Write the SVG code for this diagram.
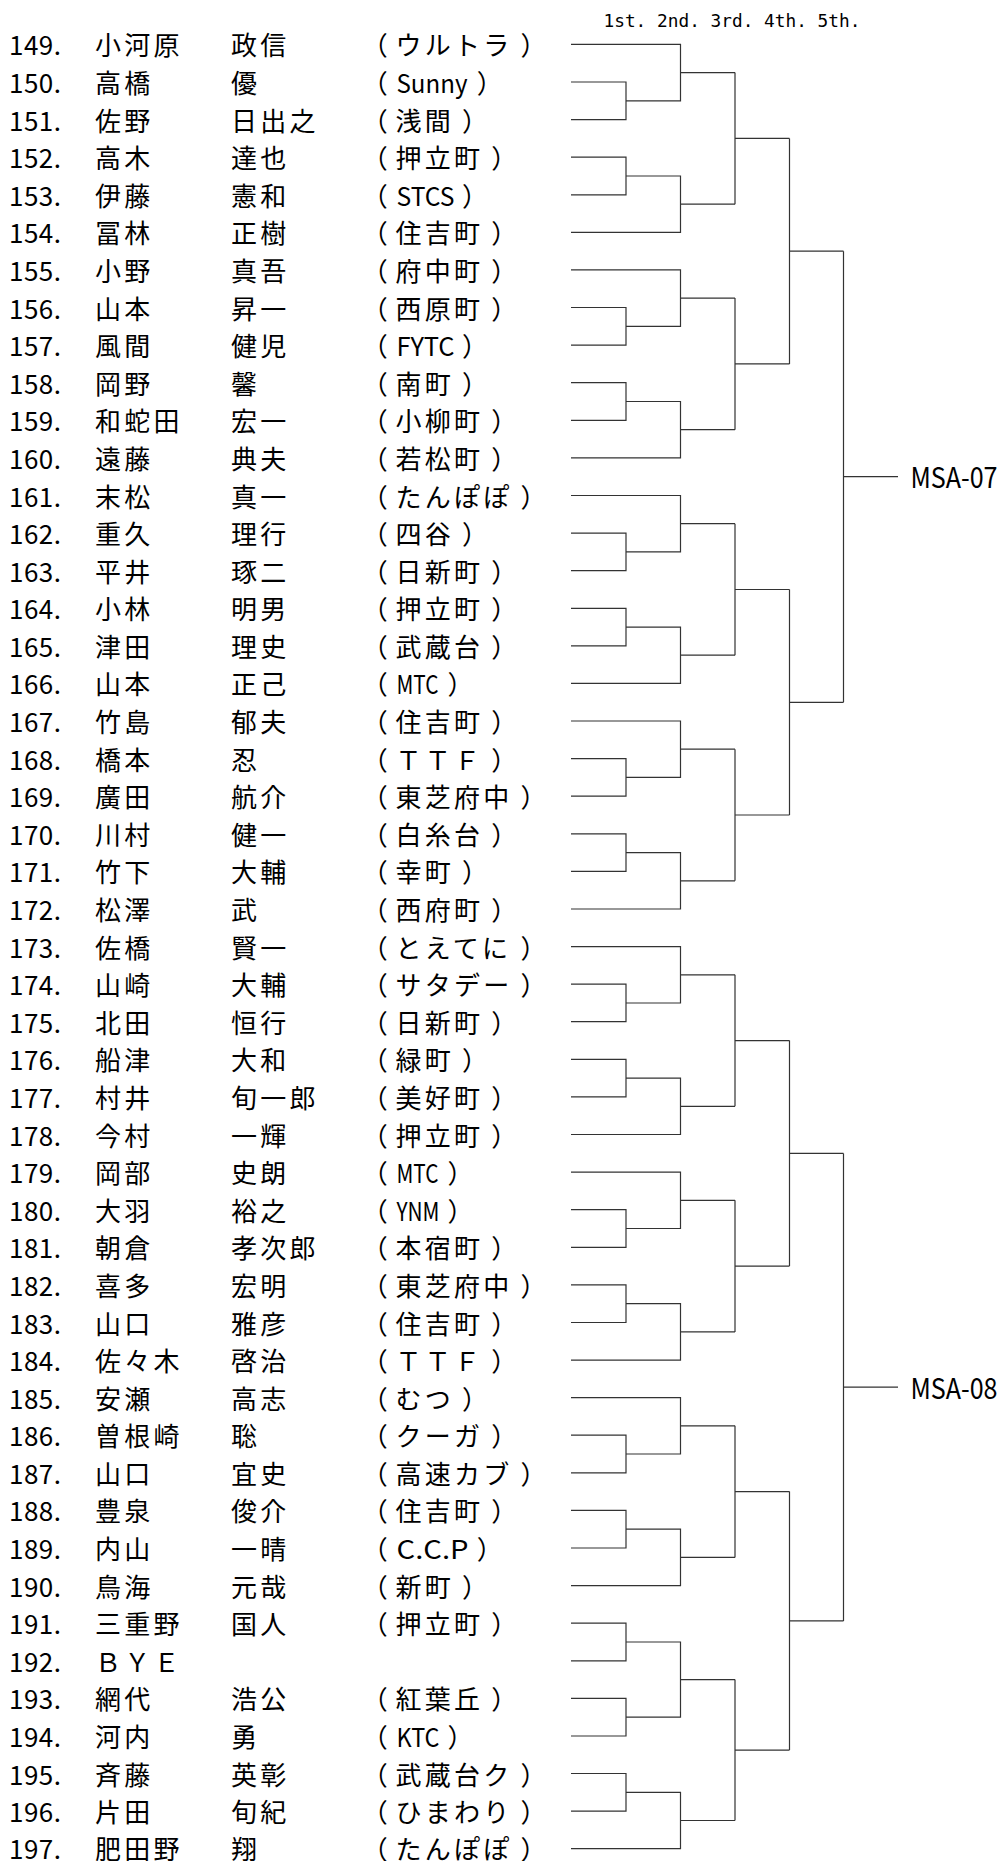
<svg xmlns="http://www.w3.org/2000/svg" width="1003" height="1861" viewBox="0 0 1003 1861">
<style>
text{font-family:"Noto Sans CJK JP","Noto Sans CJK SC",sans-serif;font-size:26px;fill:#000}
.j{letter-spacing:3.3px}
.no{letter-spacing:.5px}
.hd{font-family:"DejaVu Sans Mono",monospace;font-size:17.8px}
.msa{font-size:29px}
#bracket path{fill:none;stroke:#333;stroke-width:1.2}
</style>
<rect width="1003" height="1861" fill="#fff"/>
<g id="rounds"><text class="hd" x="603.5" y="26.7">1st. 2nd. 3rd. 4th. 5th.</text></g>
<g id="e149" transform="translate(0 55.4)"><text class="no" x="9">149.</text><text class="j" x="95">小河原</text><text class="j" x="231">政信</text><text><tspan x="361.7">（</tspan><tspan class="j" x="395.4">ウルトラ</tspan><tspan x="520.6">）</tspan></text></g>
<g id="e150" transform="translate(0 93)"><text class="no" x="9">150.</text><text class="j" x="95">高橋</text><text class="j" x="231">優</text><text><tspan x="361.7">（</tspan><tspan x="396.5" textLength="71" lengthAdjust="spacingAndGlyphs">Sunny</tspan><tspan x="476.7">）</tspan></text></g>
<g id="e151" transform="translate(0 130.6)"><text class="no" x="9">151.</text><text class="j" x="95">佐野</text><text class="j" x="231">日出之</text><text><tspan x="361.7">（</tspan><tspan class="j" x="395.4">浅間</tspan><tspan x="462">）</tspan></text></g>
<g id="e152" transform="translate(0 168.2)"><text class="no" x="9">152.</text><text class="j" x="95">高木</text><text class="j" x="231">達也</text><text><tspan x="361.7">（</tspan><tspan class="j" x="395.4">押立町</tspan><tspan x="491.3">）</tspan></text></g>
<g id="e153" transform="translate(0 205.8)"><text class="no" x="9">153.</text><text class="j" x="95">伊藤</text><text class="j" x="231">憲和</text><text><tspan x="361.7">（</tspan><tspan x="396.5" textLength="58" lengthAdjust="spacingAndGlyphs">STCS</tspan><tspan x="462">）</tspan></text></g>
<g id="e154" transform="translate(0 243.4)"><text class="no" x="9">154.</text><text class="j" x="95">冨林</text><text class="j" x="231">正樹</text><text><tspan x="361.7">（</tspan><tspan class="j" x="395.4">住吉町</tspan><tspan x="491.3">）</tspan></text></g>
<g id="e155" transform="translate(0 280.9)"><text class="no" x="9">155.</text><text class="j" x="95">小野</text><text class="j" x="231">真吾</text><text><tspan x="361.7">（</tspan><tspan class="j" x="395.4">府中町</tspan><tspan x="491.3">）</tspan></text></g>
<g id="e156" transform="translate(0 318.5)"><text class="no" x="9">156.</text><text class="j" x="95">山本</text><text class="j" x="231">昇一</text><text><tspan x="361.7">（</tspan><tspan class="j" x="395.4">西原町</tspan><tspan x="491.3">）</tspan></text></g>
<g id="e157" transform="translate(0 356.1)"><text class="no" x="9">157.</text><text class="j" x="95">風間</text><text class="j" x="231">健児</text><text><tspan x="361.7">（</tspan><tspan x="396.5" textLength="58" lengthAdjust="spacingAndGlyphs">FYTC</tspan><tspan x="462">）</tspan></text></g>
<g id="e158" transform="translate(0 393.7)"><text class="no" x="9">158.</text><text class="j" x="95">岡野</text><text class="j" x="231">馨</text><text><tspan x="361.7">（</tspan><tspan class="j" x="395.4">南町</tspan><tspan x="462">）</tspan></text></g>
<g id="e159" transform="translate(0 431.3)"><text class="no" x="9">159.</text><text class="j" x="95">和蛇田</text><text class="j" x="231">宏一</text><text><tspan x="361.7">（</tspan><tspan class="j" x="395.4">小柳町</tspan><tspan x="491.3">）</tspan></text></g>
<g id="e160" transform="translate(0 468.9)"><text class="no" x="9">160.</text><text class="j" x="95">遠藤</text><text class="j" x="231">典夫</text><text><tspan x="361.7">（</tspan><tspan class="j" x="395.4">若松町</tspan><tspan x="491.3">）</tspan></text></g>
<g id="e161" transform="translate(0 506.5)"><text class="no" x="9">161.</text><text class="j" x="95">末松</text><text class="j" x="231">真一</text><text><tspan x="361.7">（</tspan><tspan class="j" x="395.4">たんぽぽ</tspan><tspan x="520.6">）</tspan></text></g>
<g id="e162" transform="translate(0 544.1)"><text class="no" x="9">162.</text><text class="j" x="95">重久</text><text class="j" x="231">理行</text><text><tspan x="361.7">（</tspan><tspan class="j" x="395.4">四谷</tspan><tspan x="462">）</tspan></text></g>
<g id="e163" transform="translate(0 581.7)"><text class="no" x="9">163.</text><text class="j" x="95">平井</text><text class="j" x="231">琢二</text><text><tspan x="361.7">（</tspan><tspan class="j" x="395.4">日新町</tspan><tspan x="491.3">）</tspan></text></g>
<g id="e164" transform="translate(0 619.3)"><text class="no" x="9">164.</text><text class="j" x="95">小林</text><text class="j" x="231">明男</text><text><tspan x="361.7">（</tspan><tspan class="j" x="395.4">押立町</tspan><tspan x="491.3">）</tspan></text></g>
<g id="e165" transform="translate(0 656.8)"><text class="no" x="9">165.</text><text class="j" x="95">津田</text><text class="j" x="231">理史</text><text><tspan x="361.7">（</tspan><tspan class="j" x="395.4">武蔵台</tspan><tspan x="491.3">）</tspan></text></g>
<g id="e166" transform="translate(0 694.4)"><text class="no" x="9">166.</text><text class="j" x="95">山本</text><text class="j" x="231">正己</text><text><tspan x="361.7">（</tspan><tspan x="396.5" textLength="42" lengthAdjust="spacingAndGlyphs">MTC</tspan><tspan x="447.4">）</tspan></text></g>
<g id="e167" transform="translate(0 732)"><text class="no" x="9">167.</text><text class="j" x="95">竹島</text><text class="j" x="231">郁夫</text><text><tspan x="361.7">（</tspan><tspan class="j" x="395.4">住吉町</tspan><tspan x="491.3">）</tspan></text></g>
<g id="e168" transform="translate(0 769.6)"><text class="no" x="9">168.</text><text class="j" x="95">橋本</text><text class="j" x="231">忍</text><text><tspan x="361.7">（</tspan><tspan class="j" x="395.4">ＴＴＦ</tspan><tspan x="491.3">）</tspan></text></g>
<g id="e169" transform="translate(0 807.2)"><text class="no" x="9">169.</text><text class="j" x="95">廣田</text><text class="j" x="231">航介</text><text><tspan x="361.7">（</tspan><tspan class="j" x="395.4">東芝府中</tspan><tspan x="520.6">）</tspan></text></g>
<g id="e170" transform="translate(0 844.8)"><text class="no" x="9">170.</text><text class="j" x="95">川村</text><text class="j" x="231">健一</text><text><tspan x="361.7">（</tspan><tspan class="j" x="395.4">白糸台</tspan><tspan x="491.3">）</tspan></text></g>
<g id="e171" transform="translate(0 882.4)"><text class="no" x="9">171.</text><text class="j" x="95">竹下</text><text class="j" x="231">大輔</text><text><tspan x="361.7">（</tspan><tspan class="j" x="395.4">幸町</tspan><tspan x="462">）</tspan></text></g>
<g id="e172" transform="translate(0 920)"><text class="no" x="9">172.</text><text class="j" x="95">松澤</text><text class="j" x="231">武</text><text><tspan x="361.7">（</tspan><tspan class="j" x="395.4">西府町</tspan><tspan x="491.3">）</tspan></text></g>
<g id="e173" transform="translate(0 957.6)"><text class="no" x="9">173.</text><text class="j" x="95">佐橋</text><text class="j" x="231">賢一</text><text><tspan x="361.7">（</tspan><tspan class="j" x="395.4">とえてに</tspan><tspan x="520.6">）</tspan></text></g>
<g id="e174" transform="translate(0 995.2)"><text class="no" x="9">174.</text><text class="j" x="95">山崎</text><text class="j" x="231">大輔</text><text><tspan x="361.7">（</tspan><tspan class="j" x="395.4">サタデー</tspan><tspan x="520.6">）</tspan></text></g>
<g id="e175" transform="translate(0 1032.7)"><text class="no" x="9">175.</text><text class="j" x="95">北田</text><text class="j" x="231">恒行</text><text><tspan x="361.7">（</tspan><tspan class="j" x="395.4">日新町</tspan><tspan x="491.3">）</tspan></text></g>
<g id="e176" transform="translate(0 1070.3)"><text class="no" x="9">176.</text><text class="j" x="95">船津</text><text class="j" x="231">大和</text><text><tspan x="361.7">（</tspan><tspan class="j" x="395.4">緑町</tspan><tspan x="462">）</tspan></text></g>
<g id="e177" transform="translate(0 1107.9)"><text class="no" x="9">177.</text><text class="j" x="95">村井</text><text class="j" x="231">旬一郎</text><text><tspan x="361.7">（</tspan><tspan class="j" x="395.4">美好町</tspan><tspan x="491.3">）</tspan></text></g>
<g id="e178" transform="translate(0 1145.5)"><text class="no" x="9">178.</text><text class="j" x="95">今村</text><text class="j" x="231">一輝</text><text><tspan x="361.7">（</tspan><tspan class="j" x="395.4">押立町</tspan><tspan x="491.3">）</tspan></text></g>
<g id="e179" transform="translate(0 1183.1)"><text class="no" x="9">179.</text><text class="j" x="95">岡部</text><text class="j" x="231">史朗</text><text><tspan x="361.7">（</tspan><tspan x="396.5" textLength="42" lengthAdjust="spacingAndGlyphs">MTC</tspan><tspan x="447.4">）</tspan></text></g>
<g id="e180" transform="translate(0 1220.7)"><text class="no" x="9">180.</text><text class="j" x="95">大羽</text><text class="j" x="231">裕之</text><text><tspan x="361.7">（</tspan><tspan x="396.5" textLength="43" lengthAdjust="spacingAndGlyphs">YNM</tspan><tspan x="447.4">）</tspan></text></g>
<g id="e181" transform="translate(0 1258.3)"><text class="no" x="9">181.</text><text class="j" x="95">朝倉</text><text class="j" x="231">孝次郎</text><text><tspan x="361.7">（</tspan><tspan class="j" x="395.4">本宿町</tspan><tspan x="491.3">）</tspan></text></g>
<g id="e182" transform="translate(0 1295.9)"><text class="no" x="9">182.</text><text class="j" x="95">喜多</text><text class="j" x="231">宏明</text><text><tspan x="361.7">（</tspan><tspan class="j" x="395.4">東芝府中</tspan><tspan x="520.6">）</tspan></text></g>
<g id="e183" transform="translate(0 1333.5)"><text class="no" x="9">183.</text><text class="j" x="95">山口</text><text class="j" x="231">雅彦</text><text><tspan x="361.7">（</tspan><tspan class="j" x="395.4">住吉町</tspan><tspan x="491.3">）</tspan></text></g>
<g id="e184" transform="translate(0 1371.1)"><text class="no" x="9">184.</text><text class="j" x="95">佐々木</text><text class="j" x="231">啓治</text><text><tspan x="361.7">（</tspan><tspan class="j" x="395.4">ＴＴＦ</tspan><tspan x="491.3">）</tspan></text></g>
<g id="e185" transform="translate(0 1408.6)"><text class="no" x="9">185.</text><text class="j" x="95">安瀬</text><text class="j" x="231">高志</text><text><tspan x="361.7">（</tspan><tspan class="j" x="395.4">むつ</tspan><tspan x="462">）</tspan></text></g>
<g id="e186" transform="translate(0 1446.2)"><text class="no" x="9">186.</text><text class="j" x="95">曽根崎</text><text class="j" x="231">聡</text><text><tspan x="361.7">（</tspan><tspan class="j" x="395.4">クーガ</tspan><tspan x="491.3">）</tspan></text></g>
<g id="e187" transform="translate(0 1483.8)"><text class="no" x="9">187.</text><text class="j" x="95">山口</text><text class="j" x="231">宜史</text><text><tspan x="361.7">（</tspan><tspan class="j" x="395.4">高速カブ</tspan><tspan x="520.6">）</tspan></text></g>
<g id="e188" transform="translate(0 1521.4)"><text class="no" x="9">188.</text><text class="j" x="95">豊泉</text><text class="j" x="231">俊介</text><text><tspan x="361.7">（</tspan><tspan class="j" x="395.4">住吉町</tspan><tspan x="491.3">）</tspan></text></g>
<g id="e189" transform="translate(0 1559)"><text class="no" x="9">189.</text><text class="j" x="95">内山</text><text class="j" x="231">一晴</text><text><tspan x="361.7">（</tspan><tspan x="396.5" textLength="72" lengthAdjust="spacingAndGlyphs">C.C.P</tspan><tspan x="476.7">）</tspan></text></g>
<g id="e190" transform="translate(0 1596.6)"><text class="no" x="9">190.</text><text class="j" x="95">鳥海</text><text class="j" x="231">元哉</text><text><tspan x="361.7">（</tspan><tspan class="j" x="395.4">新町</tspan><tspan x="462">）</tspan></text></g>
<g id="e191" transform="translate(0 1634.2)"><text class="no" x="9">191.</text><text class="j" x="95">三重野</text><text class="j" x="231">国人</text><text><tspan x="361.7">（</tspan><tspan class="j" x="395.4">押立町</tspan><tspan x="491.3">）</tspan></text></g>
<g id="e192" transform="translate(0 1671.8)"><text class="no" x="9">192.</text><text class="j" x="95">ＢＹＥ</text></g>
<g id="e193" transform="translate(0 1709.4)"><text class="no" x="9">193.</text><text class="j" x="95">網代</text><text class="j" x="231">浩公</text><text><tspan x="361.7">（</tspan><tspan class="j" x="395.4">紅葉丘</tspan><tspan x="491.3">）</tspan></text></g>
<g id="e194" transform="translate(0 1747)"><text class="no" x="9">194.</text><text class="j" x="95">河内</text><text class="j" x="231">勇</text><text><tspan x="361.7">（</tspan><tspan x="396.5" textLength="43" lengthAdjust="spacingAndGlyphs">KTC</tspan><tspan x="447.4">）</tspan></text></g>
<g id="e195" transform="translate(0 1784.5)"><text class="no" x="9">195.</text><text class="j" x="95">斉藤</text><text class="j" x="231">英彰</text><text><tspan x="361.7">（</tspan><tspan class="j" x="395.4">武蔵台ク</tspan><tspan x="520.6">）</tspan></text></g>
<g id="e196" transform="translate(0 1822.1)"><text class="no" x="9">196.</text><text class="j" x="95">片田</text><text class="j" x="231">旬紀</text><text><tspan x="361.7">（</tspan><tspan class="j" x="395.4">ひまわり</tspan><tspan x="520.6">）</tspan></text></g>
<g id="e197" transform="translate(0 1859.2)"><text class="no" x="9">197.</text><text class="j" x="95">肥田野</text><text class="j" x="231">翔</text><text><tspan x="361.7">（</tspan><tspan class="j" x="395.4">たんぽぽ</tspan><tspan x="520.6">）</tspan></text></g>
<g id="bracket">
<path d="M571 44.4H680.5V100.8H626M571 82H626V119.6H571M680.5 72.6H735"/>
<path d="M571 157.2H626V194.8H571M626 176H680.5V232.4H571M680.5 204.2H735"/>
<path d="M735 72.6V204.2M735 138.4H789.5"/>
<path d="M571 269.9H680.5V326.3H626M571 307.5H626V345.1H571M680.5 298.1H735"/>
<path d="M571 382.7H626V420.3H571M626 401.5H680.5V457.9H571M680.5 429.7H735"/>
<path d="M735 298.1V429.7M735 363.9H789.5"/>
<path d="M789.5 138.4V363.9M789.5 251.2H843.5"/>
<path d="M571 495.5H680.5V551.9H626M571 533.1H626V570.7H571M680.5 523.7H735"/>
<path d="M571 608.3H626V645.8H571M626 627.1H680.5V683.4H571M680.5 655.2H735"/>
<path d="M735 523.7V655.2M735 589.5H789.5"/>
<path d="M571 721H680.5V777.4H626M571 758.6H626V796.2H571M680.5 749.2H735"/>
<path d="M571 833.8H626V871.4H571M626 852.6H680.5V909H571M680.5 880.8H735"/>
<path d="M735 749.2V880.8M735 815H789.5"/>
<path d="M789.5 589.5V815M789.5 702.3H843.5"/>
<path d="M843.5 251.2V702.3M843.5 476.7H898"/>
<path d="M571 946.6H680.5V1003H626M571 984.2H626V1021.7H571M680.5 974.8H735"/>
<path d="M571 1059.3H626V1096.9H571M626 1078.1H680.5V1134.5H571M680.5 1106.3H735"/>
<path d="M735 974.8V1106.3M735 1040.6H789.5"/>
<path d="M571 1172.1H680.5V1228.5H626M571 1209.7H626V1247.3H571M680.5 1200.3H735"/>
<path d="M571 1284.9H626V1322.5H571M626 1303.7H680.5V1360.1H571M680.5 1331.9H735"/>
<path d="M735 1200.3V1331.9M735 1266.1H789.5"/>
<path d="M789.5 1040.6V1266.1M789.5 1153.4H843.5"/>
<path d="M571 1397.6H680.5V1454H626M571 1435.2H626V1472.8H571M680.5 1425.8H735"/>
<path d="M571 1510.4H626V1548H571M626 1529.2H680.5V1585.6H571M680.5 1557.4H735"/>
<path d="M735 1425.8V1557.4M735 1491.6H789.5"/>
<path d="M571 1623.2H626V1660.8H571M571 1698.4H626V1736H571M626 1642H680.5V1717.2H626M680.5 1679.6H735M571 1773.5H626V1811.1H571M571 1848.7H680.5V1792.3H626M680.5 1820.5H735"/>
<path d="M735 1679.6V1820.5M735 1750.1H789.5"/>
<path d="M789.5 1491.6V1750.1M789.5 1620.9H843.5"/>
<path d="M843.5 1153.4V1620.9M843.5 1387.2H898"/>
</g>
<g id="msa07"><text class="msa" x="910.5" y="488.2" textLength="87" lengthAdjust="spacingAndGlyphs">MSA-07</text></g>
<g id="msa08"><text class="msa" x="910.5" y="1398.5" textLength="87" lengthAdjust="spacingAndGlyphs">MSA-08</text></g>
</svg>
